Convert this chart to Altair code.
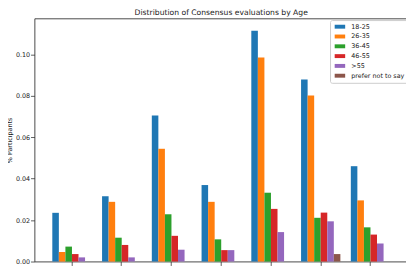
import altair as alt
import pandas as pd

categories = ["1", "2", "3", "4", "5", "6", "7"]
ages = ["18-25", "26-35", "36-45", "46-55", ">55", "prefer not to say"]
colors = ["#1f77b4", "#ff7f0e", "#2ca02c", "#d62728", "#9467bd", "#8c564b"]

v_18_25 = [0.0235, 0.0315, 0.0705, 0.0369, 0.1113, 0.0878, 0.0460]
v_26_35 = [0.0046, 0.0288, 0.0544, 0.0288, 0.0985, 0.0801, 0.0295]
v_36_45 = [0.0072, 0.0115, 0.0228, 0.0107, 0.0332, 0.0211, 0.0165]
v_46_55 = [0.0036, 0.0080, 0.0124, 0.0055, 0.0254, 0.0236, 0.0130]
v_55plus = [0.0020, 0.0020, 0.0057, 0.0055, 0.0142, 0.0194, 0.0087]
v_prefer = [0.0, 0.0, 0.0, 0.0, 0.0, 0.0036, 0.0]

series = [v_18_25, v_26_35, v_36_45, v_46_55, v_55plus, v_prefer]
rows = []
for age, vals in zip(ages, series):
    for cat, v in zip(categories, vals):
        rows.append({"group": cat, "age": age, "value": v})
df = pd.DataFrame(rows)

FONT = "DejaVu Sans"

chart = alt.Chart(df).mark_bar().encode(
    x=alt.X("group:N", sort=categories,
            scale=alt.Scale(paddingInner=0.21, paddingOuter=0.3585),
            axis=alt.Axis(title=None, labelAngle=0, labelFontSize=6.5,
                          labelFont=FONT, labelColor="#222", labelPadding=3)),
    xOffset=alt.XOffset("age:N", sort=ages,
                        scale=alt.Scale(paddingInner=0, paddingOuter=0)),
    y=alt.Y("value:Q",
            scale=alt.Scale(domain=[0, 0.1173], nice=False, zero=True),
            axis=alt.Axis(values=[0, 0.02, 0.04, 0.06, 0.08, 0.10], format=".2f",
                          title="% Participants", titleFontSize=6.5, titleFont=FONT,
                          titleFontWeight="normal", titleColor="#222", titlePadding=3,
                          labelFontSize=6.5, labelFont=FONT, labelColor="#222",
                          labelPadding=1)),
    color=alt.Color("age:N", sort=ages,
                    scale=alt.Scale(domain=ages, range=colors),
                    legend=alt.Legend(title=None, orient="none", legendX=301.5, legendY=1.7,
                                      symbolType="M-1,-1H4.35V1H-1Z", symbolSize=16,
                                      symbolStrokeWidth=0, symbolOpacity=1,
                                      labelFontSize=6.5, labelFont=FONT, labelColor="#222",
                                      labelOffset=11.7, padding=3.5, rowPadding=3,
                                      strokeColor="#cccccc", fillColor="white",
                                      cornerRadius=2)),
).properties(
    width=381,
    height=248,
    title=alt.TitleParams("Distribution of Consensus evaluations by Age", fontSize=7.8,
                          font=FONT, fontWeight="normal", anchor="middle", offset=1.5,
                          color="#222"),
    autosize=alt.AutoSizeParams(type="none"),
    padding={"left": 27, "top": 8, "right": -2, "bottom": 5},
).configure_view(
    stroke="#333", strokeWidth=0.9
).configure_axis(
    grid=False, domain=False, tickSize=4, tickColor="#333", tickWidth=0.8
)

chart.save("out.html", embed_options={"renderer": "svg", "actions": False})
